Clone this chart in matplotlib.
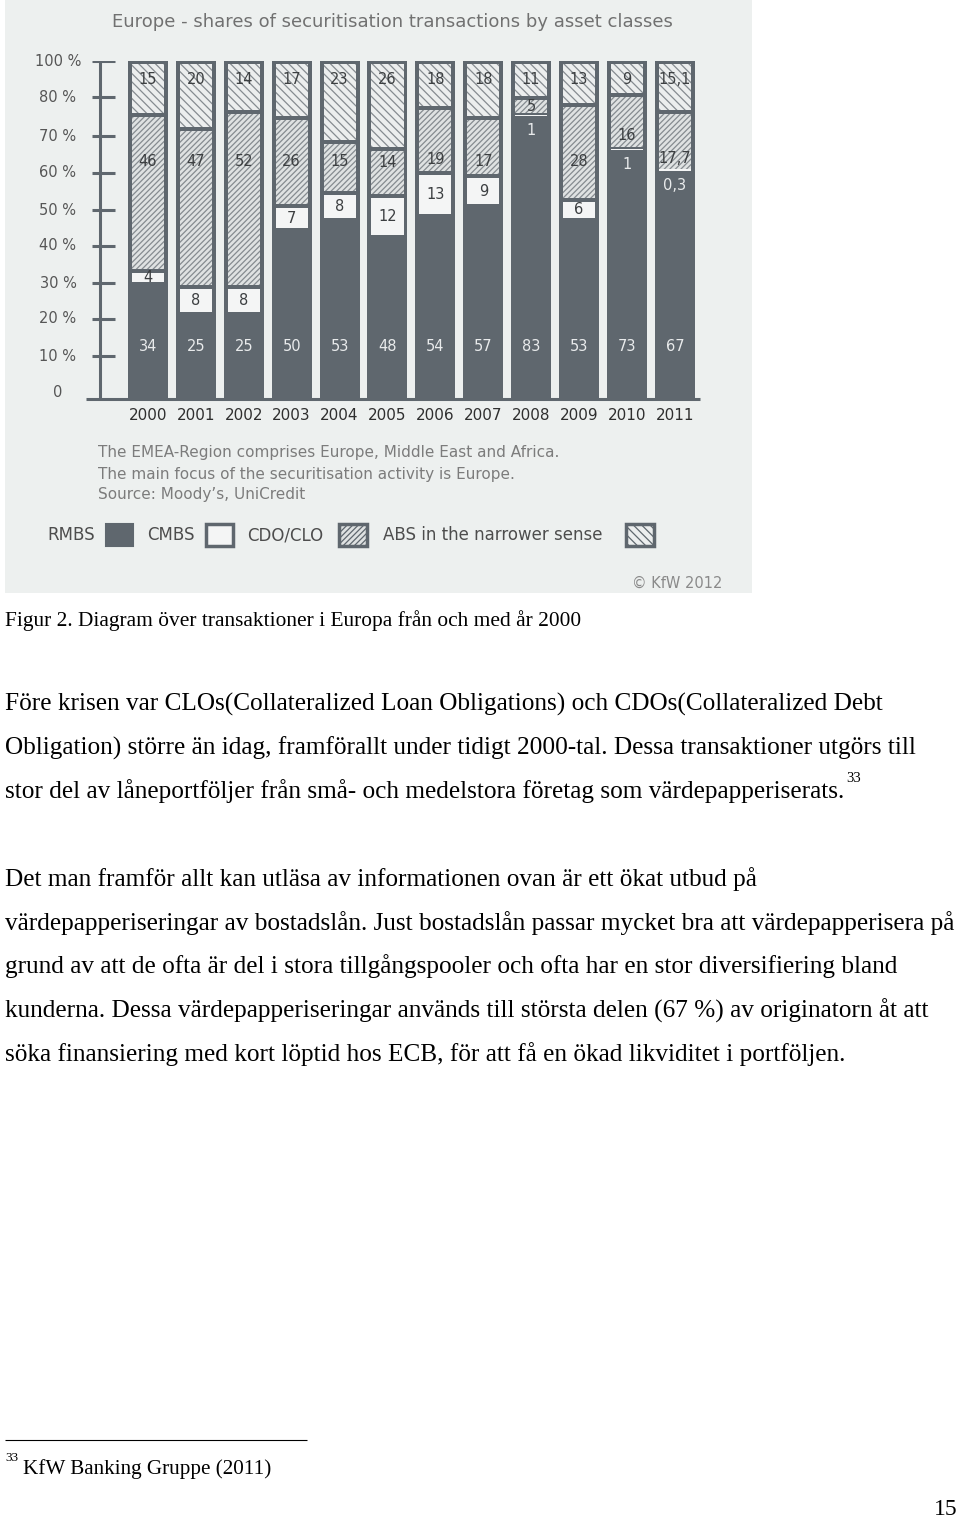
import numpy as np
import matplotlib
matplotlib.use("Agg")
import matplotlib.pyplot as plt
from matplotlib.patches import Rectangle

# data (shares in %, bottom to top)
years = [2000, 2001, 2002, 2003, 2004, 2005, 2006, 2007, 2008, 2009, 2010, 2011]
rmbs = [34, 25, 25, 50, 53, 48, 54, 57, 83, 53, 73, 67]
cmbs = [4, 8, 8, 7, 8, 12, 13, 9, 1, 6, 1, 0.3]
cdo_clo = [46, 47, 52, 26, 15, 14, 19, 17, 5, 28, 16, 17.7]
abs_narrow = [15, 20, 14, 17, 23, 26, 18, 18, 11, 13, 9, 15.1]

# the original axis labels are evenly spaced (80 % is followed by 100 %)
tick_labels = ["0", "10 %", "20 %", "30 %", "40 %", "50 %", "60 %", "70 %", "80 %", "100 %"]
tick_pos = [1.8, 12.7, 23.7, 34.3, 45.3, 55.9, 66.9, 77.8, 89.3, 100]

title = "Europe - shares of securitisation transactions by asset classes"
notes = ["The EMEA-Region comprises Europe, Middle East and Africa.",
         "The main focus of the securitisation activity is Europe.",
         "Source: Moody\u2019s, UniCredit"]

caption = "Figur 2. Diagram över transaktioner i Europa från och med år 2000"
para1 = ["Före krisen var CLOs(Collateralized Loan Obligations) och CDOs(Collateralized Debt",
         "Obligation) större än idag, framförallt under tidigt 2000-tal. Dessa transaktioner utgörs till",
         "stor del av låneportföljer från små- och medelstora företag som värdepapperiserats."]
para2 = ["Det man framför allt kan utläsa av informationen ovan är ett ökat utbud på",
         "värdepapperiseringar av bostadslån. Just bostadslån passar mycket bra att värdepapperisera på",
         "grund av att de ofta är del i stora tillgångspooler och ofta har en stor diversifiering bland",
         "kunderna. Dessa värdepapperiseringar används till största delen (67 %) av originatorn åt att",
         "söka finansiering med kort löptid hos ECB, för att få en ökad likviditet i portföljen."]


def fmt(v):
    return f"{v:g}".replace(".", ",")


DARK = "#5f676e"
BG = "#edf0ef"
LIGHT = "#e9ebec"
TXT = "#3c3f41"
HATCH = "#858b90"
SERIF = "Liberation Serif"
plt.rcParams["hatch.linewidth"] = 0.9

fig = plt.figure(figsize=(9.6, 15.2), dpi=100)

# page in pixel coordinates
page = fig.add_axes([0, 0, 1, 1])
page.set_xlim(0, 960)
page.set_ylim(1520, 0)
page.axis("off")
page.add_patch(Rectangle((5, 0), 747, 593, color=BG, lw=0))

# chart
ax = fig.add_axes([20 / 960, 1 - 399 / 1520, 700 / 960, 338 / 1520])
ax.set_xlim(-2.672, 11.942)
ax.set_ylim(0, 100)
ax.axis("off")

x = np.arange(len(years))
w_out, w_in, gap = 0.835, 0.67, 0.6

ax.bar(x, 100, width=w_out, color=DARK, lw=0)

cmbs_bot = [r + gap for r in rmbs]
cmbs_h = [max(c - 2 * gap, 0.4) for c in cmbs]
ax.bar(x, cmbs_h, bottom=cmbs_bot, width=w_in, color="#f4f5f5", lw=0)

cdo_lo = [r + c for r, c in zip(rmbs, cmbs)]
cdo_h = [max(d - 2 * gap, 0.4) for d in cdo_clo]
ax.bar(x, cdo_h, bottom=[b + gap for b in cdo_lo], width=w_in, color="#dfe2e2",
       edgecolor=HATCH, hatch="//////", lw=0)

abs_lo = [b + d for b, d in zip(cdo_lo, cdo_clo)]
abs_top = [min(b + a, 100 - 0.9) for b, a in zip(abs_lo, abs_narrow)]
ax.bar(x, [t - b - gap for t, b in zip(abs_top, abs_lo)], bottom=[b + gap for b in abs_lo],
       width=w_in, color="#eceeee", edgecolor=HATCH, hatch="\\\\\\\\", lw=0)

lab = dict(ha="center", va="center", fontsize=10.5)
for i in range(len(years)):
    ax.text(i, 15.4, fmt(rmbs[i]), color=LIGHT, **lab)
    if cmbs[i] < 2:
        ax.text(i, rmbs[i] - 3.7, fmt(cmbs[i]), color=LIGHT, **lab)
    else:
        ax.text(i, rmbs[i] + cmbs[i] / 2, fmt(cmbs[i]), color=TXT, **lab)
    lo, hi = cdo_lo[i], abs_lo[i]
    if hi - lo > 8:
        y = min(max(70.4, lo + 4), hi - 4)
    else:
        y = (lo + hi) / 2
    ax.text(i, y, fmt(cdo_clo[i]), color=TXT, **lab)
    ax.text(i, 94.4, fmt(abs_narrow[i]), color=TXT, **lab)
    ax.text(i, -5.0, str(years[i]), ha="center", va="center", fontsize=11, color="#2f2f2f",
            clip_on=False)

# axis lines with cross ticks
ax.vlines(-1, 0, 100, color=DARK, lw=2.2, clip_on=False)
ax.hlines(tick_pos[1:], -1.17, -0.69, color=DARK, lw=2.2)
ax.hlines(0, -1.294, 11.52, color=DARK, lw=2.2, clip_on=False)
for p, t in zip(tick_pos, tick_labels):
    ax.text(-1.879, p, t, ha="center", va="center", fontsize=10.5, color="#565656")

page.text(392.5, 22, title, ha="center", va="center", fontsize=13, color="#717171")
for k, n in enumerate(notes):
    page.text(98, 453 + 21 * k, n, ha="left", va="center", fontsize=11, color="#7c7c7c")

# legend
leg = dict(ha="left", va="baseline", fontsize=12, color="#4d4d4d")
page.text(47, 540, "RMBS", **leg)
page.add_patch(Rectangle((106, 524), 27, 22, facecolor=DARK, edgecolor=DARK, lw=1.5))
page.text(147, 540, "CMBS", **leg)
page.add_patch(Rectangle((206, 524), 27, 22, facecolor="#f4f5f5", edgecolor=DARK, lw=2.5))
page.text(247, 540, "CDO/CLO", **leg)
page.add_patch(Rectangle((339, 524), 28, 22, facecolor="#dfe2e2", edgecolor=DARK, lw=2.5,
                         hatch="//////"))
page.text(383, 540, "ABS in the narrower sense", **leg)
page.add_patch(Rectangle((626, 524), 28, 22, facecolor="#eceeee", edgecolor=DARK, lw=2.5,
                         hatch="\\\\\\\\"))
page.text(722, 583, "\u00a9 KfW 2012", ha="right", va="center", fontsize=10.5, color="#8a8a8a")

# body text
page.text(5, 626, caption, ha="left", va="baseline", fontsize=15.4, family=SERIF)
body = dict(ha="left", va="baseline", fontsize=18.2, family=SERIF)
last = None
for k, line in enumerate(para1):
    last = page.text(5, 711 + 43.5 * k, line, **body)
for k, line in enumerate(para2):
    page.text(5, 886 + 43.7 * k, line, **body)

fig.canvas.draw()
bb = last.get_window_extent()
x1 = page.transData.inverted().transform((bb.x1, bb.y1))[0]
page.text(x1 + 2, 779, "33", ha="left", va="center", fontsize=10.5, family=SERIF)

page.hlines(1440, 5, 307, color="black", lw=0.8)
page.text(5, 1458, "33", ha="left", va="center", fontsize=9.5, family=SERIF)
page.text(23, 1474, "KfW Banking Gruppe (2011)", ha="left", va="baseline", fontsize=15.2,
          family=SERIF)
page.text(958, 1515, "15", ha="right", va="baseline", fontsize=17, family=SERIF)

fig.savefig("out.png", dpi=100, facecolor="white")
